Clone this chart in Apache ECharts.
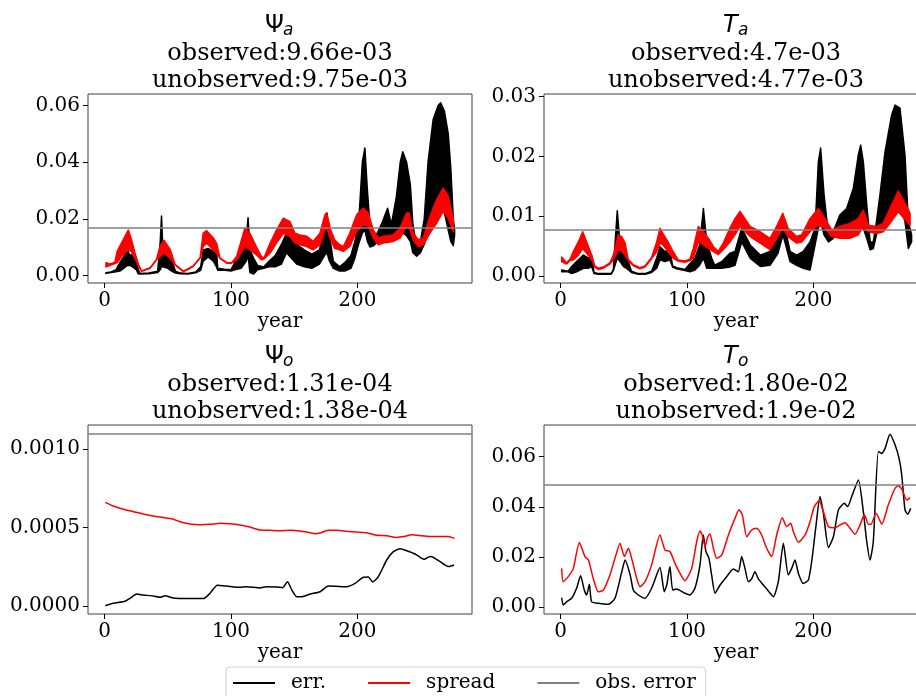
<!DOCTYPE html>
<html>
<head>
<meta charset="utf-8">
<script src="https://cdn.jsdelivr.net/npm/echarts@6/dist/echarts.min.js"></script>
<style>
  html, body { margin: 0; padding: 0; background: #fff; }
  #chart { width: 916px; height: 696px; }
</style>
</head>
<body>
<div id="chart"></div>
<script>
// ---- data ----
// top row: fast oscillating curves, stored as lower / upper envelope
var psiAErrYear = [1,5,9,12,15,18,20,22,25,26.5,28,35,42,44,45,46,50,53,56,60,66,72,76,78,82,86,88.5,89.5,95,100,103,108,112,113.5,115,118,121,126,130,135,140,144,148,152,158,164,170,174,176,178,181,186,190,195,198,201,204,206,208,210,213,216,220,224,227,231,234,236,239,242,244,247,250,253,256,260,264,266,269,272,274,276,277];
var psiAErrLo = [.0007,.0010,.0013,.0015,.0025,.0035,.0035,.0030,.0020,.0006,.0005,.0006,.0010,.0020,.0030,.0030,.0025,.0015,.0008,.0006,.0005,.0009,.0018,.0050,.0065,.0050,.0030,.0018,.0018,.0015,.0020,.0025,.0050,.0070,.0010,.0005,.0020,.0025,.0030,.0030,.0040,.0080,.0060,.0040,.0030,.0025,.0040,.0070,.0080,.0050,.0025,.0015,.0015,.0025,.0060,.0110,.0150,.0160,.0120,.0100,.0105,.0120,.0120,.0140,.0130,.0130,.0140,.0150,.0140,.0120,.0080,.0068,.0080,.0110,.0150,.0190,.0220,.0230,.0220,.0160,.0120,.0105,.0140];
var psiAErrHi = [.0009,.0012,.0020,.0045,.0065,.0090,.0070,.0075,.0060,.0020,.0007,.0008,.0015,.0120,.0210,.0100,.0085,.0055,.0015,.0008,.0007,.0012,.0030,.0090,.0095,.0085,.0090,.0025,.0022,.0020,.0045,.0080,.0120,.0204,.0090,.0060,.0035,.0030,.0050,.0070,.0110,.0150,.0130,.0110,.0090,.0075,.0090,.0160,.0220,.0140,.0050,.0030,.0045,.0070,.0120,.0180,.0400,.0450,.0300,.0180,.0140,.0150,.0190,.0237,.0180,.0280,.0400,.0437,.0400,.0320,.0180,.0100,.0120,.0200,.0400,.0550,.0600,.0610,.0580,.0500,.0380,.0200,.0160];

var psiASprYear = [1,4,8,10,14,18.7,21,24,27,29.3,36,41,43.8,47,52,55.7,62.3,65,70,75.5,78,80.7,86,88.6,91.3,96.6,100.5,104.5,111,115,120,124,126,131,136,141.4,146.7,150.6,154.6,160,165,170.4,174.4,175.7,179,182,186,189,194,199.5,204.7,208.7,212.7,216.6,220.6,228.5,233.8,239,241,244.3,248.3,252.2,257.5,262.8,268,272,276];
var psiASprLo = [.0030,.0035,.0042,.0045,.0070,.0090,.0085,.0060,.0030,.0014,.0025,.0054,.0067,.0079,.0060,.0037,.0013,.0019,.0031,.0060,.0102,.0114,.0090,.0079,.0060,.0043,.0043,.0055,.0102,.0090,.0073,.0055,.0057,.0079,.0114,.0149,.0138,.0114,.0108,.0102,.0090,.0108,.0160,.0170,.0126,.0096,.0090,.0085,.0102,.0155,.0179,.0173,.0132,.0108,.0114,.0120,.0132,.0173,.0170,.0126,.0102,.0108,.0149,.0185,.0226,.0202,.0155];
var psiASprHi = [.0045,.0040,.0046,.0086,.0120,.0160,.0130,.0079,.0035,.0016,.0027,.0056,.0102,.0124,.0090,.0039,.0015,.0021,.0033,.0062,.0149,.0158,.0132,.0114,.0062,.0045,.0045,.0067,.0167,.0149,.0102,.0067,.0060,.0114,.0160,.0202,.0190,.0149,.0143,.0138,.0120,.0149,.0214,.0220,.0160,.0126,.0108,.0102,.0149,.0214,.0238,.0220,.0160,.0132,.0138,.0143,.0167,.0220,.0220,.0149,.0126,.0132,.0208,.0267,.0308,.0279,.0202];

var tAErrYear = [0.8,6,8.7,12.6,18,22,24.5,26.4,30,40,41.7,43,44.8,47,49.6,52,56,61.5,66.7,72,76,78.6,82.6,86.5,88.6,91.8,98.4,102.4,106.3,110,113,115.6,119.5,122,127.4,134,138,143.3,150,158,165.7,172,176,181.6,186.8,192,197.4,201.4,204,205.8,208.5,212,215.8,221,226.4,231.7,235.6,237.5,239.6,242.3,245,247.5,250,252.8,256.8,262,264.7,268.6,272.6,275.2,277.8];
var tAErrLo = [.0007,.0007,.0004,.0007,.0013,.0013,.0016,.0004,.0003,.0003,.0009,.0018,.0030,.0024,.0016,.0013,.0006,.0003,.0003,.0006,.0013,.0027,.0024,.0027,.0015,.0012,.0009,.0007,.0010,.0018,.0030,.0013,.0013,.0013,.0013,.0015,.0018,.0057,.0030,.0016,.0018,.0038,.0069,.0024,.0018,.0013,.0010,.0052,.0080,.0091,.0069,.0057,.0063,.0080,.0085,.0091,.0091,.0095,.0080,.0063,.0044,.0046,.0069,.0080,.0091,.0119,.0124,.0119,.0091,.0046,.0057];
var tAErrHi = [.0010,.0008,.0016,.0024,.0035,.0030,.0035,.0006,.0004,.0004,.0011,.0052,.0109,.0052,.0041,.0035,.0008,.0004,.0004,.0008,.0030,.0049,.0041,.0044,.0017,.0014,.0011,.0021,.0030,.0052,.0113,.0057,.0030,.0018,.0024,.0038,.0041,.0080,.0052,.0035,.0041,.0063,.0097,.0041,.0035,.0041,.0057,.0080,.0191,.0214,.0136,.0069,.0074,.0102,.0113,.0147,.0202,.0219,.0191,.0119,.0057,.0057,.0091,.0136,.0208,.0269,.0286,.0281,.0202,.0091,.0069];

var tASprYear = [0.8,4.7,7.4,10,14,17.4,20.6,24.5,27,29.8,33.7,39,41.7,45.6,48.3,51,53.5,57.5,62.8,66.7,72,76,78.6,81,85,89,93,98.4,102.3,105,109,113,117,121,124.8,128.7,134,138,142,150,158,165.7,171,175.8,180,186.8,190.8,197.4,204,209.3,214.5,221,229,235.6,239.6,243.6,250,255.4,260.7,267.3,272.6,276.6];
var tASprLo = [.0024,.0020,.0026,.0027,.0035,.0046,.0038,.0027,.0015,.0011,.0013,.0020,.0027,.0044,.0041,.0035,.0026,.0017,.0012,.0015,.0029,.0041,.0055,.0052,.0041,.0030,.0025,.0023,.0026,.0030,.0057,.0052,.0046,.0041,.0036,.0044,.0057,.0069,.0083,.0066,.0055,.0044,.0063,.0080,.0066,.0055,.0057,.0074,.0085,.0080,.0066,.0063,.0063,.0069,.0083,.0074,.0071,.0074,.0088,.0108,.0094,.0085];
var tASprHi = [.0032,.0022,.0028,.0041,.0057,.0074,.0057,.0035,.0017,.0013,.0015,.0022,.0035,.0069,.0066,.0055,.0028,.0019,.0014,.0017,.0031,.0057,.0080,.0071,.0057,.0041,.0027,.0025,.0028,.0046,.0083,.0074,.0063,.0049,.0041,.0055,.0080,.0096,.0108,.0083,.0074,.0063,.0083,.0105,.0080,.0066,.0069,.0096,.0113,.0096,.0077,.0083,.0088,.0096,.0110,.0085,.0083,.0088,.0113,.0142,.0122,.0105];

// bottom row: smooth curves
var psiOErrYear = [0.5,6.9,16.1,20.1,25.4,30.6,38.5,43.9,47.8,54.4,65,78.2,83.4,89.2,96.6,107.2,112.4,123,128.3,136.3,141,144.7,148.2,152.1,156.1,162.7,170.5,177,183.7,191.6,198.2,204.8,208.7,212.2,216.7,223.3,228.6,233.9,239.2,245.8,252.9,257.7,260.3,265.6,272.1,276.6];
var psiOErr = [0.000002,0.000017,0.000030,0.000049,0.000076,0.000070,0.000064,0.000055,0.000066,0.000051,0.000047,0.000047,0.000081,0.000132,0.000127,0.000119,0.000123,0.000115,0.000123,0.000121,0.000117,0.000155,0.000102,0.000059,0.000059,0.000076,0.000091,0.000127,0.000125,0.000123,0.000144,0.000183,0.000185,0.000153,0.000187,0.000293,0.000346,0.000365,0.000352,0.000331,0.000297,0.000316,0.000310,0.000282,0.000251,0.000261];
var psiOSprYear = [0.5,6.9,14.8,22.7,30.6,38.5,46.5,53,59.7,67.6,75.5,83.4,91.3,99.2,107.2,115,123,131,138.8,146.7,154.6,162.5,166.5,170.5,177,183.7,191.6,199.5,207.4,215.4,223.3,231.2,236.5,243.1,251,259,266.8,272.1,276.9];
var psiOSpr = [0.000660,0.000637,0.000616,0.000601,0.000586,0.000573,0.000563,0.000556,0.000537,0.000522,0.000518,0.000520,0.000527,0.000524,0.000516,0.000503,0.000484,0.000482,0.000480,0.000482,0.000478,0.000467,0.000461,0.000465,0.000482,0.000482,0.000476,0.000471,0.000467,0.000450,0.000448,0.000437,0.000442,0.000454,0.000448,0.000442,0.000442,0.000442,0.000429];

var tOErrYear = [0.8,2,4.7,8.7,12.6,15.8,18.7,20.6,22.7,24.5,29.8,37.7,43,48.4,51,55,57.5,61.5,66.8,72,78.6,82,84,86.5,88.7,91.8,98.4,102.4,106.3,110.3,112.9,115,117.4,119.5,122.2,126.2,131.4,136.7,140.7,143.3,145.9,148.6,151.2,153.8,156.5,160.4,164.9,168.4,172.3,176.3,180.2,182.9,185.5,188.2,192.1,196.1,198.7,201.9,205.3,208,212,215.9,219.9,224.6,227.2,230.4,235.7,239.6,242.3,244.9,247.5,251.5,254.1,256.8,260.7,264.7,267.9,270,272.6,274.7,277.1];
var tOErr = [.0038,.0009,.0022,.0036,.0076,.0126,.0069,.0049,.0092,.0022,.0016,.0012,.0036,.0142,.0188,.0129,.0069,.0049,.0036,.0076,.0158,.0062,.0089,.0162,.0069,.0073,.0056,.0049,.0076,.0169,.0288,.0222,.0195,.0129,.0056,.0089,.0122,.0153,.0142,.0202,.0155,.0102,.0113,.0142,.0113,.0089,.0062,.0042,.0102,.0255,.0129,.0155,.0188,.0135,.0095,.0109,.0182,.0315,.0441,.0374,.0238,.0281,.0388,.0414,.0401,.0441,.0507,.0381,.0262,.0188,.0262,.0620,.0613,.0633,.0689,.0647,.0593,.0527,.0388,.0371,.0394];
var tOSprYear = [0.8,2,6,10,14.8,19.2,21.9,25.8,29.8,33.8,39,43,47,50.4,53.6,56.2,60.2,62.8,66.8,72,78.6,82.6,86.5,90.5,94.5,98.4,103.7,107.7,110.3,112,114.3,116.4,118.2,120.9,123.5,127.5,132.8,138,141.2,143.8,147.3,151.2,155.2,159.1,163.1,167,171,175.5,178.9,182.1,184.2,188.2,193.5,197.4,200.8,204.5,208,212,217.2,221.2,225.1,229.1,233,237,240.4,243.6,245.7,249.7,254.2,259.4,264.7,267.3,270.5,273.9,276.6];
var tOSpr = [.0155,.0102,.0122,.0155,.0258,.0202,.0189,.0115,.0062,.0069,.0129,.0195,.0255,.0202,.0235,.0195,.0115,.0082,.0102,.0169,.0288,.0228,.0222,.0175,.0135,.0106,.0155,.0262,.0304,.0288,.0242,.0281,.0292,.0235,.0195,.0208,.0288,.0354,.0388,.0368,.0281,.0308,.0315,.0288,.0235,.0202,.0288,.0357,.0321,.0335,.0301,.0259,.0288,.0341,.0401,.0424,.0381,.0321,.0317,.0328,.0337,.0315,.0291,.0328,.0370,.0331,.0331,.0375,.0331,.0408,.0474,.0484,.0467,.0427,.0437];

var obsError = [0.0168, 0.0077, 0.0011, 0.049];

// ticks and texts
var xTicks = [0, 100, 200];
var yTicksPsiA = [0, 0.02, 0.04, 0.06];
var yTicksTA = [0, 0.01, 0.02, 0.03];
var yTicksPsiO = [0, 0.0005, 0.001];
var yTicksTO = [0, 0.02, 0.04, 0.06];
var varSymbol = ['Ψ', 'T', 'Ψ', 'T'];
var varSub = ['a', 'a', 'o', 'o'];
var observedText = ['observed:9.66e-03', 'observed:4.7e-03', 'observed:1.31e-04', 'observed:1.80e-02'];
var unobservedText = ['unobserved:9.75e-03', 'unobserved:4.77e-03', 'unobserved:1.38e-04', 'unobserved:1.9e-02'];
var legendNames = ['err.', 'spread', 'obs. error'];

// ---- layout ----
var SERIF = 'DejaVu Serif';
var SANS = 'DejaVu Sans';
var W = 384, H = 189;
var panels = [
  { left: 88, top: 94, yMin: -0.0027, yMax: 0.0641, ticks: yTicksPsiA, digits: 2 },
  { left: 544, top: 94, yMin: -0.00117, yMax: 0.03045, ticks: yTicksTA, digits: 2 },
  { left: 88, top: 425, yMin: -0.000051, yMax: 0.001153, ticks: yTicksPsiO, digits: 4 },
  { left: 544, top: 425, yMin: -0.00267, yMax: 0.0726, ticks: yTicksTO, digits: 2 }
];

function pairs(xs, ys) {
  return xs.map(function (x, i) { return [x, ys[i]]; });
}

function lineSeries(name, color, idx, xs, ys) {
  return {
    name: name, type: 'line', xAxisIndex: idx, yAxisIndex: idx,
    data: pairs(xs, ys), symbol: 'none', smooth: 0.2,
    itemStyle: { color: color }, lineStyle: { color: color, width: 1.5 }
  };
}

// envelope of a fast oscillation, drawn as one filled polygon (hi forward, lo back)
function bandSeries(name, color, idx, xs, lo, hi) {
  return {
    name: name, type: 'custom', xAxisIndex: idx, yAxisIndex: idx,
    data: pairs(xs, hi), clip: true,
    itemStyle: { color: color },
    renderItem: function (params, api) {
      if (params.dataIndex !== 0) return null;
      var pts = [];
      for (var i = 0; i < xs.length; i++) pts.push(api.coord([xs[i], hi[i]]));
      for (var j = xs.length - 1; j >= 0; j--) pts.push(api.coord([xs[j], lo[j]]));
      return {
        type: 'polygon',
        shape: { points: pts },
        style: { fill: color, stroke: color, lineWidth: 1.5, lineJoin: 'round' }
      };
    }
  };
}

function obsSeries(idx) {
  return {
    name: 'obs. error', type: 'line', xAxisIndex: idx, yAxisIndex: idx, data: [],
    itemStyle: { color: '#808080' }, lineStyle: { color: '#808080' },
    markLine: {
      silent: true, symbol: 'none', animation: false, precision: 8,
      label: { show: false },
      lineStyle: { color: '#808080', width: 1.5, type: 'solid' },
      data: [{ yAxis: obsError[idx] }]
    }
  };
}

var series = [
  bandSeries('err.', '#000000', 0, psiAErrYear, psiAErrLo, psiAErrHi),
  bandSeries('spread', '#ff0000', 0, psiASprYear, psiASprLo, psiASprHi),
  obsSeries(0),
  bandSeries('err.', '#000000', 1, tAErrYear, tAErrLo, tAErrHi),
  bandSeries('spread', '#ff0000', 1, tASprYear, tASprLo, tASprHi),
  obsSeries(1),
  lineSeries('err.', '#000000', 2, psiOErrYear, psiOErr),
  lineSeries('spread', '#ff0000', 2, psiOSprYear, psiOSpr),
  obsSeries(2),
  lineSeries('err.', '#000000', 3, tOErrYear, tOErr),
  lineSeries('spread', '#ff0000', 3, tOSprYear, tOSpr),
  obsSeries(3)
];

var grids = [], xAxes = [], yAxes = [], graphics = [];
panels.forEach(function (p, i) {
  grids.push({
    left: p.left, top: p.top, width: W, height: H,
    show: true, borderColor: '#404040', borderWidth: 1,
    containLabel: false, outerBoundsMode: 'none'
  });
  xAxes.push({
    gridIndex: i, type: 'value', min: -13.2, max: 290.8,
    name: 'year', nameLocation: 'middle', nameGap: 27,
    nameTextStyle: { fontFamily: SERIF, fontSize: 20, color: '#000' },
    axisLine: { show: false, onZero: false },
    axisTick: { show: true, length: 5, customValues: xTicks, lineStyle: { color: '#000', width: 1 } },
    axisLabel: { customValues: xTicks, fontFamily: SERIF, fontSize: 20, color: '#000', margin: 8 },
    splitLine: { show: false }
  });
  yAxes.push({
    gridIndex: i, type: 'value', min: p.yMin, max: p.yMax,
    axisLine: { show: false, onZero: false },
    axisTick: { show: true, length: 5, customValues: p.ticks, lineStyle: { color: '#000', width: 1 } },
    axisLabel: {
      customValues: p.ticks, fontFamily: SERIF, fontSize: 20, color: '#000', margin: 8,
      formatter: function (v) { return v.toFixed(p.digits); }
    },
    splitLine: { show: false }
  });

  // three-line panel title
  var cx = p.left + W / 2;
  var italicMain = varSymbol[i] === 'T';
  graphics.push({
    type: 'text', x: cx - (italicMain ? 13 : 15), y: p.top - 68,
    style: { text: varSymbol[i], fontFamily: SANS, fontSize: 24, fontStyle: italicMain ? 'italic' : 'normal',
             fill: '#000', align: 'left', verticalAlign: 'middle' }
  });
  graphics.push({
    type: 'text', x: cx + (italicMain ? 2 : 3), y: p.top - 63.5,
    style: { text: varSub[i], fontFamily: SANS, fontSize: 17, fontStyle: 'italic',
             fill: '#000', align: 'left', verticalAlign: 'middle' }
  });
  graphics.push({
    type: 'text', x: cx, y: p.top - 40,
    style: { text: observedText[i], fontFamily: SERIF, fontSize: 24, fill: '#000', align: 'center', verticalAlign: 'middle' }
  });
  graphics.push({
    type: 'text', x: cx, y: p.top - 13.5,
    style: { text: unobservedText[i], fontFamily: SERIF, fontSize: 24, fill: '#000', align: 'center', verticalAlign: 'middle' }
  });
});

var chart = echarts.init(document.getElementById('chart'));
chart.setOption({
  animation: false,
  backgroundColor: '#ffffff',
  grid: grids,
  xAxis: xAxes,
  yAxis: yAxes,
  legend: {
    data: legendNames,
    left: 226, top: 667,
    padding: [6, 10, 14, 7],
    icon: 'rect', itemWidth: 42, itemHeight: 2, itemGap: 42,
    backgroundColor: '#ffffff', borderColor: '#d0d0d0', borderWidth: 1, borderRadius: 4,
    textStyle: { fontFamily: SERIF, fontSize: 20, color: '#000', padding: [0, 0, 0, 11] },
    selectedMode: false
  },
  graphic: graphics,
  series: series
});
</script>
</body>
</html>
